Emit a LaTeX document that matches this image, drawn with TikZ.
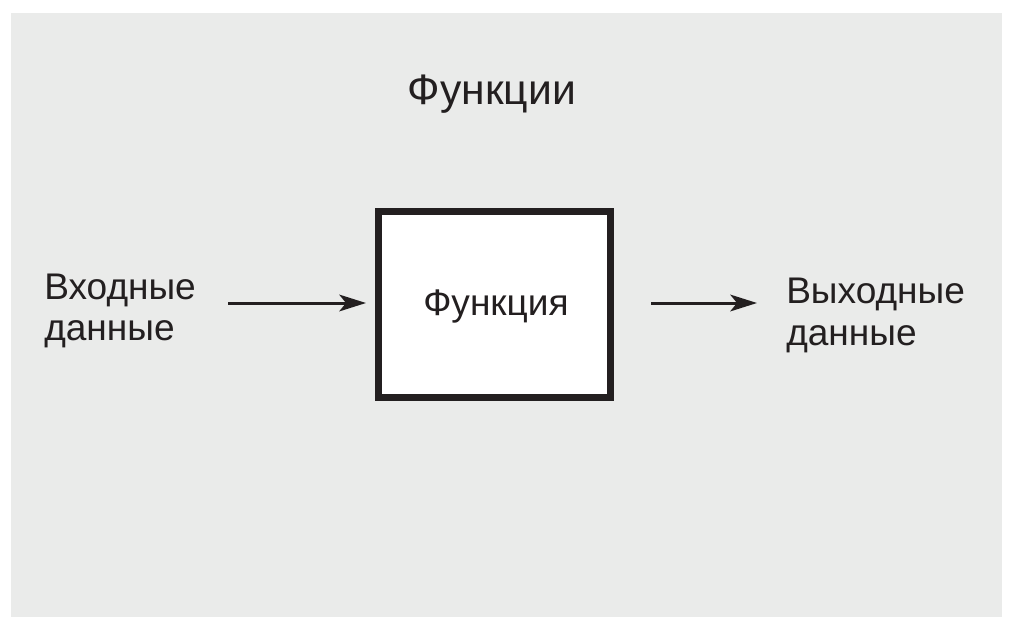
\documentclass[tikz,border=0pt]{standalone}
\usepackage{fontspec}
\setmainfont{Liberation Sans}
\usetikzlibrary{arrows.meta}
\definecolor{bg}{RGB}{234,235,234}
\definecolor{ink}{RGB}{35,31,32}
\tikzset{
  lbl/.style={inner sep=0pt, text=ink, font=\fontsize{27.8}{33}\selectfont},
  ttl/.style={inner sep=0pt, text=ink, font=\fontsize{32}{38}\selectfont},
  funcbox/.style={draw=ink, line width=5.25pt, fill=white, minimum width=174pt, minimum height=139.5pt, inner sep=0pt},
  flow/.style={draw=ink, line width=2.25pt, -{Stealth[length=20pt, width=12.5pt, inset=5pt]}}
}
\begin{document}
\begin{tikzpicture}[x=0.75pt, y=-0.75pt]
\useasboundingbox (0,0) rectangle (1010,621);
\fill[bg] (11,13) rectangle (1002,617);
\node[ttl, anchor=base] (title) at (492,104) {Функции};
\node[funcbox] (box) at (494.5,304.5) {};
\node[lbl, anchor=base] (boxlabel) at (496,315) {Функция};
\node[lbl, anchor=base west] (in1) at (44,299) {Входные};
\node[lbl, anchor=base west] (in2) at (44,340) {данные};
\node[lbl, anchor=base west] (out1) at (786,303) {Выходные};
\node[lbl, anchor=base west] (out2) at (786,345) {данные};
\coordinate (instart) at (228,303);
\coordinate (outend) at (757,303);
\draw[flow, shorten >=6.75pt] (instart) -- (box.west |- instart);
\draw[flow, shorten <=27.75pt] (box.east |- outend) -- (outend);
\end{tikzpicture}
\end{document}
